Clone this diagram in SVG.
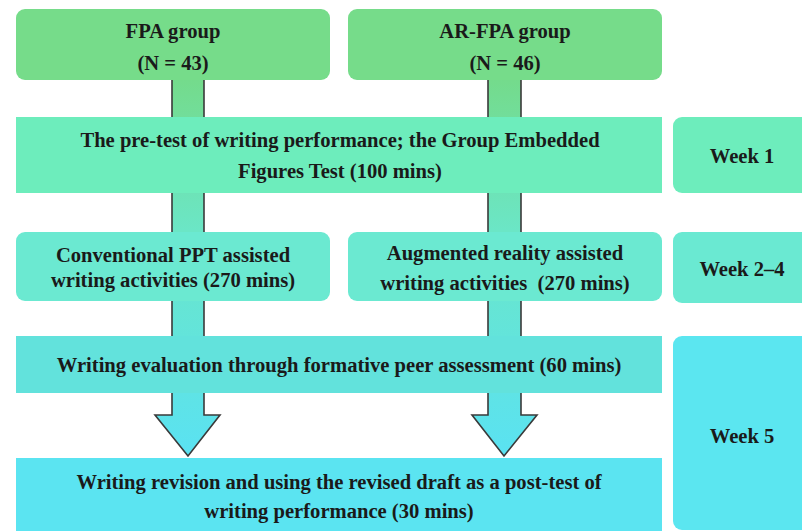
<svg xmlns="http://www.w3.org/2000/svg" width="802" height="531" viewBox="0 0 802 531">
<style>
text{font-family:"Liberation Serif","Times New Roman",serif;font-weight:bold;font-size:20.6px;fill:#1a1a1a;text-anchor:middle}
.arrow{stroke:#3a3a3a;stroke-width:1.6;fill:url(#ag)}
</style>
<defs>
<linearGradient id="ag" x1="0" y1="80" x2="0" y2="456" gradientUnits="userSpaceOnUse">
<stop offset="0" stop-color="#74DB8C"/>
<stop offset="0.4" stop-color="#6BE6C6"/>
<stop offset="1" stop-color="#5AE2F2"/>
</linearGradient>
</defs>
<rect width="802" height="531" fill="#fff"/>
<g id="connectors">
<path class="arrow" d="M172,78 L204,78 L204,415 L220,415 L188,456 L155,415 L172,415 Z"/>
<path class="arrow" d="M488,78 L521,78 L521,415 L537,415 L504,456 L472,415 L488,415 Z"/>
</g>
<g id="fpa">
<rect x="16" y="9" width="314" height="71" rx="9" fill="#76DC8A"/>
<text x="173" y="38">FPA group</text>
<text x="173" y="70">(N = 43)</text>
</g>
<g id="arfpa">
<rect x="348" y="9" width="314" height="71" rx="9" fill="#76DC8A"/>
<text x="505" y="38">AR-FPA group</text>
<text x="505" y="70">(N = 46)</text>
</g>
<g id="pretest">
<rect x="16" y="117" width="646" height="76" fill="#6DEDBC"/>
<text x="340" y="147">The pre-test of writing performance; the Group Embedded</text>
<text x="340" y="178">Figures Test (100 mins)</text>
</g>
<g id="week1">
<rect x="673" y="117" width="140" height="76" rx="9" fill="#6DEDBC"/>
<text x="742" y="163">Week 1</text>
</g>
<g id="conventional">
<rect x="16" y="232" width="314" height="69" rx="9" fill="#6BE9D1"/>
<text x="173" y="262">Conventional PPT assisted</text>
<text x="173" y="287">writing activities (270 mins)</text>
</g>
<g id="augmented">
<rect x="348" y="232" width="314" height="69" rx="9" fill="#6BE9D1"/>
<text x="505" y="260">Augmented reality assisted</text>
<text x="505" y="290" xml:space="preserve">writing activities  (270 mins)</text>
</g>
<g id="week24">
<rect x="673" y="232" width="140" height="71" rx="9" fill="#6AE9D2"/>
<text x="742" y="276">Week 2–4</text>
</g>
<g id="evaluation">
<rect x="16" y="336" width="646" height="57" fill="#62E2DC"/>
<text x="339" y="372">Writing evaluation through formative peer assessment (60 mins)</text>
</g>
<g id="week5">
<rect x="673" y="336" width="140" height="194" rx="9" fill="#5BE6F0"/>
<text x="742" y="443">Week 5</text>
</g>
<g id="revision">
<rect x="16" y="458" width="646" height="80" fill="#5BE4F1"/>
<text x="339" y="489">Writing revision and using the revised draft as a post-test of</text>
<text x="339" y="518">writing performance (30 mins)</text>
</g>
</svg>
